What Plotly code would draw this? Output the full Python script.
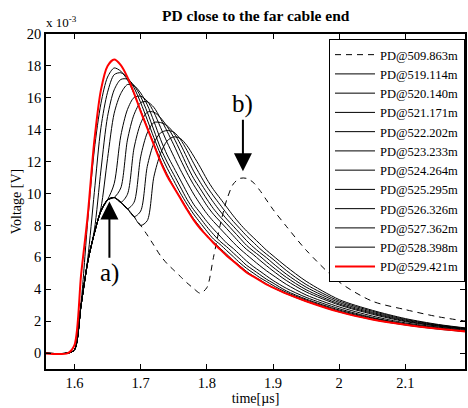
import plotly.graph_objects as go

# time axis [µs]
TIME = [1.55, 1.59, 1.60, 1.61, 1.62, 1.63, 1.64, 1.65, 1.66, 1.67, 1.68, 1.69, 1.70,
        1.71, 1.72, 1.73, 1.74, 1.75, 1.76, 1.77, 1.78, 1.79, 1.80, 1.81, 1.82, 1.83,
        1.84, 1.85, 1.86, 1.87, 1.88, 1.89, 1.90, 1.92, 1.95, 2.00, 2.05, 2.10, 2.15, 2.20]

# voltages in units of 1e-3 V
PD_509_863 = [0, 0, 0.2, 3.0, 5.7, 7.5, 8.9, 9.6, 9.75, 9.45, 9.05, 8.55, 8.0, 7.4, 6.75, 6.1, 5.6, 5.2,
              4.8, 4.4, 4.05, 3.75, 4.1, 6.0, 8.0, 9.6, 10.6, 10.95, 10.95, 10.7, 10.2, 9.6, 9.0,
              7.95, 6.45, 4.45, 3.25, 2.72, 2.27, 1.95]
PD_519_114 = [0, 0, 0.2, 3.0, 5.7, 7.5, 8.9, 9.6, 9.75, 9.45, 9.05, 8.55, 8.0, 8.3, 11.05, 12.5, 13.3,
              13.55, 13.45, 13.0, 12.35, 11.65, 10.9, 10.25, 9.7, 9.15, 8.6, 8.1, 7.65, 7.25, 6.85,
              6.45, 6.1, 5.42, 4.5, 3.35, 2.68, 2.16, 1.79, 1.53]
PD_520_140 = [0, 0, 0.2, 3.0, 5.7, 7.5, 8.9, 9.6, 9.75, 9.45, 9.05, 8.55, 8.9, 11.7, 13.15, 13.8, 13.95,
              13.85, 13.4, 12.7, 11.9, 11.15, 10.45, 9.85, 9.3, 8.75, 8.25, 7.8, 7.35, 6.95, 6.55,
              6.2, 5.88, 5.18, 4.3, 3.26, 2.62, 2.11, 1.76, 1.51]
PD_521_171 = [0, 0, 0.2, 3.0, 5.7, 7.5, 8.9, 9.6, 9.75, 9.45, 9.05, 9.45, 12.3, 13.8, 14.45, 14.45,
              14.25, 13.8, 13.1, 12.25, 11.4, 10.7, 10.05, 9.45, 8.9, 8.4, 7.95, 7.5, 7.05, 6.65,
              6.3, 5.98, 5.62, 4.95, 4.13, 3.17, 2.55, 2.06, 1.73, 1.48]
PD_522_202 = [0, 0, 0.2, 3.0, 5.7, 7.5, 8.9, 9.6, 9.75, 9.45, 9.95, 12.85, 14.4, 15.1, 15.1, 14.75,
              14.2, 13.5, 12.65, 11.75, 10.95, 10.3, 9.65, 9.05, 8.55, 8.1, 7.65, 7.2, 6.75, 6.4,
              6.08, 5.72, 5.38, 4.75, 3.97, 3.08, 2.49, 2.01, 1.7, 1.46]
PD_523_233 = [0, 0, 0.2, 3.0, 5.7, 7.5, 8.9, 9.6, 9.75, 10.35, 13.35, 14.95, 15.7, 15.75, 15.4, 14.7,
              13.9, 13.05, 12.15, 11.3, 10.55, 9.9, 9.25, 8.7, 8.25, 7.8, 7.35, 6.9, 6.5, 6.18,
              5.82, 5.48, 5.15, 4.55, 3.83, 3.01, 2.43, 1.97, 1.68, 1.44]
PD_524_264 = [0, 0, 0.2, 3.0, 5.7, 7.5, 8.9, 9.6, 10.62, 13.62, 15.26, 16.02, 16.1, 15.79, 15.09,
              14.15, 13.21, 12.33, 11.49, 10.71, 9.97, 9.33, 8.74, 8.25, 7.81, 7.37, 6.93, 6.53,
              6.17, 5.82, 5.48, 5.16, 4.87, 4.31, 3.64, 2.89, 2.32, 1.89, 1.63, 1.39]
PD_525_295 = [0, 0, 0.2, 3.0, 5.7, 7.5, 9.09, 12.19, 15.03, 16.27, 16.83, 16.76, 16.3, 15.56, 14.53,
              13.4, 12.42, 11.63, 10.85, 10.06, 9.33, 8.79, 8.25, 7.77, 7.33, 6.89, 6.55, 6.16,
              5.77, 5.43, 5.14, 4.84, 4.55, 4.06, 3.49, 2.78, 2.23, 1.83, 1.59, 1.35]
PD_526_326 = [0, 0, 0.2, 3.0, 5.7, 7.69, 11.47, 14.83, 16.5, 17.15, 17.17, 16.77, 16.08, 15.1, 13.97,
              12.85, 11.97, 11.19, 10.41, 9.63, 8.99, 8.46, 7.92, 7.44, 7.0, 6.66, 6.27, 5.89, 5.5,
              5.21, 4.92, 4.63, 4.39, 3.9, 3.38, 2.7, 2.19, 1.81, 1.55, 1.34]
PD_527_362 = [0, 0, 0.2, 3.0, 5.89, 10.07, 14.13, 16.35, 17.45, 17.57, 17.27, 16.63, 15.7, 14.62, 13.5,
              12.47, 11.59, 10.81, 10.03, 9.34, 8.71, 8.17, 7.64, 7.15, 6.81, 6.42, 6.04, 5.65,
              5.31, 5.02, 4.73, 4.49, 4.24, 3.81, 3.32, 2.64, 2.14, 1.78, 1.53, 1.32]
PD_528_398 = [0, 0, 0.2, 3.19, 8.27, 12.73, 15.65, 17.3, 17.87, 17.67, 17.13, 16.25, 15.22, 14.15,
              13.12, 12.09, 11.21, 10.43, 9.74, 9.06, 8.42, 7.89, 7.35, 6.96, 6.57, 6.19, 5.8, 5.46,
              5.12, 4.83, 4.59, 4.34, 4.1, 3.72, 3.24, 2.58, 2.1, 1.76, 1.5, 1.31]
PD_529_421 = [0, 0, 0.5, 4.9, 8.6, 13.3, 16.5, 18.0, 18.4, 18.05, 17.3, 16.3, 15.15, 14.1, 13.05, 12.0,
              11.1, 10.4, 9.7, 9.0, 8.35, 7.8, 7.35, 6.9, 6.5, 6.1, 5.75, 5.4, 5.05, 4.8, 4.55, 4.3,
              4.1, 3.72, 3.25, 2.58, 2.1, 1.77, 1.52, 1.32]

SERIES = [
    ("PD@509.863m", PD_509_863),
    ("PD@519.114m", PD_519_114),
    ("PD@520.140m", PD_520_140),
    ("PD@521.171m", PD_521_171),
    ("PD@522.202m", PD_522_202),
    ("PD@523.233m", PD_523_233),
    ("PD@524.264m", PD_524_264),
    ("PD@525.295m", PD_525_295),
    ("PD@526.326m", PD_526_326),
    ("PD@527.362m", PD_527_362),
    ("PD@528.398m", PD_528_398),
    ("PD@529.421m", PD_529_421),
]

X_TICKS = [1.6, 1.7, 1.8, 1.9, 2.0, 2.1]
X_TICK_LABELS = ["1.6", "1.7", "1.8", "1.9", "2", "2.1"]
Y_TICKS = [0, 2, 4, 6, 8, 10, 12, 14, 16, 18, 20]

FONT = "Liberation Serif"

fig = go.Figure()
for i, (name, vals) in enumerate(SERIES):
    if i == 0:
        line = dict(color="black", width=1, dash="6px,5px", shape="spline", smoothing=0.8)
    elif i == len(SERIES) - 1:
        line = dict(color="#ff0000", width=2, shape="spline", smoothing=0.8)
    else:
        line = dict(color="black", width=1, shape="spline", smoothing=0.8)
    fig.add_trace(go.Scatter(x=TIME, y=vals, mode="lines", name=name, line=line))

axis_common = dict(
    showgrid=False, zeroline=False, showline=True, linecolor="black", linewidth=1.5,
    mirror="ticks", ticks="inside", ticklen=5, tickcolor="black", tickwidth=1,
    tickfont=dict(family=FONT, size=14.5, color="black"),
)
fig.update_xaxes(range=[1.557, 2.19], tickvals=X_TICKS, ticktext=X_TICK_LABELS,
                 title=dict(text="time[µs]", font=dict(family=FONT, size=14, color="black"), standoff=2),
                 **axis_common)
fig.update_yaxes(range=[-1, 20], tickvals=Y_TICKS,
                 title=dict(text="Voltage [V]", font=dict(family=FONT, size=14, color="black"), standoff=2),
                 **axis_common)

fig.add_annotation(text="<b>PD close to the far cable end</b>", xref="paper", yref="paper",
                   x=0.5, y=1, yshift=8, xanchor="center", yanchor="bottom", showarrow=False,
                   font=dict(family=FONT, size=15.5, color="black"))
fig.add_annotation(text="x 10<sup>-3</sup>", xref="paper", yref="paper", x=0, y=1,
                   xanchor="left", yanchor="bottom", xshift=-2, yshift=2, showarrow=False,
                   font=dict(family=FONT, size=13, color="black"))

# labelled arrows: text sits at the tail, arrow head at the pointed feature
fig.add_annotation(x=1.6528, y=9.5, ax=1.6528, ay=5.0, xref="x", yref="y", axref="x", ayref="y",
                   text="a)", showarrow=True, arrowhead=2, arrowsize=1.8, arrowwidth=2,
                   arrowcolor="black", standoff=0, startstandoff=0,
                   font=dict(family=FONT, size=25, color="black"))
fig.add_annotation(x=1.8545, y=11.4, ax=1.8545, ay=15.6, xref="x", yref="y", axref="x", ayref="y",
                   text="b)", showarrow=True, arrowhead=2, arrowsize=1.8, arrowwidth=2,
                   arrowcolor="black", standoff=0, startstandoff=0,
                   font=dict(family=FONT, size=25, color="black"))

fig.update_layout(
    width=468, height=408,
    margin=dict(l=46, r=1, t=34, b=39),
    paper_bgcolor="white", plot_bgcolor="white",
    showlegend=True,
    legend=dict(x=1, y=0.985, xanchor="right", yanchor="top", bgcolor="white",
                bordercolor="black", borderwidth=1, itemwidth=40, tracegroupgap=0,
                font=dict(family=FONT, size=12.5, color="black")),
)

fig.write_html("out.html")
